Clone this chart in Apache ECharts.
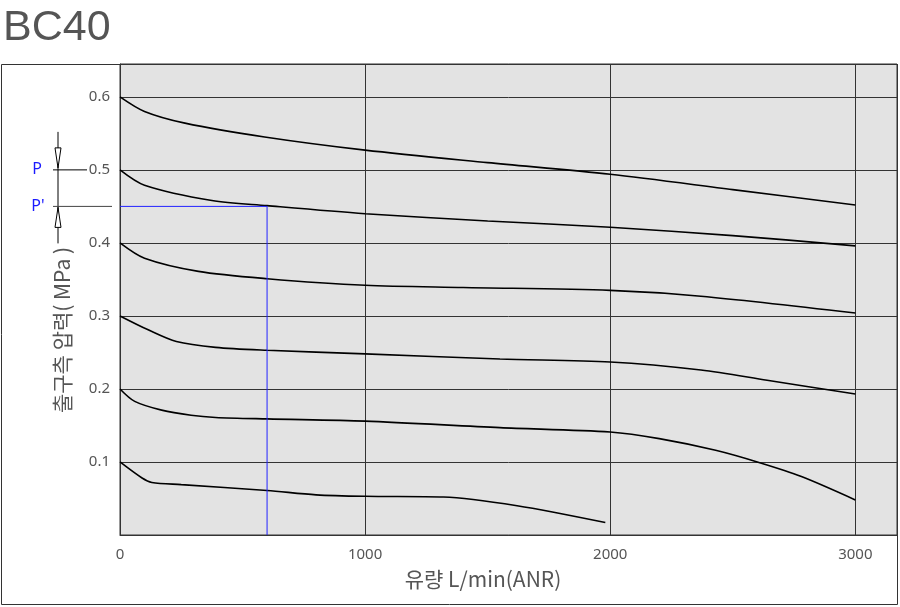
<!DOCTYPE html>
<html><head><meta charset="utf-8">
<script src="https://cdn.jsdelivr.net/npm/echarts@6/dist/echarts.min.js"></script>
<style>html,body{margin:0;padding:0;background:#fff}#c{width:900px;height:607px}</style>
</head><body><div id="c"></div>
<script>
const titleText = 'BC40';
const xName = '유량 L/min(ANR)';
const yName = '출구측 압력( MPa )';
const xTickValues = [0, 1000, 2000, 3000];
const yTickValues = [0.1, 0.2, 0.3, 0.4, 0.5, 0.6];
const curve06 = [[0,0.6],[100,0.58],[265,0.564],[590,0.545],[1000,0.527],[1500,0.51],[2000,0.494],[2500,0.473],[3000,0.452]];
const curve05 = [[0,0.5],[100,0.479],[375,0.458],[600,0.451],[1000,0.44],[1500,0.43],[2000,0.4215],[2500,0.41],[3000,0.396]];
const curve04 = [[0,0.4],[100,0.379],[320,0.361],[600,0.351],[1000,0.342],[1400,0.339],[2000,0.335],[2370,0.327],[3000,0.304]];
const curve03 = [[0,0.3],[115,0.281],[230,0.265],[390,0.257],[600,0.253],[1000,0.248],[1550,0.241],[2000,0.237],[2370,0.226],[2640,0.212],[3000,0.193]];
const curve02 = [[0,0.2],[60,0.183],[170,0.171],[290,0.164],[390,0.161],[600,0.159],[1000,0.156],[1550,0.147],[2000,0.141],[2200,0.132],[2430,0.116],[2610,0.099],[2780,0.08],[3000,0.048]];
const curve01 = [[0,0.1],[90,0.078],[130,0.072],[250,0.069],[600,0.061],[800,0.055],[1000,0.053],[1320,0.052],[1620,0.04],[1980,0.017]];
const refFlow = 600;
const refP = 0.5;
const refPprime = 0.45;
const labelP = 'P';
const labelPprime = "P'";

const curves = [curve06, curve05, curve04, curve03, curve02, curve01];
const chart = echarts.init(document.getElementById('c'));
const txt = '#555';
const font = '"Noto Sans", "Noto Sans CJK KR", sans-serif';

const series = curves.map(d => ({
  type: 'line', data: d, showSymbol: false, smooth: 0.3, silent: true,
  lineStyle: { color: '#000', width: 1.6 }
}));
series.push({
  type: 'line', data: [[0, refPprime], [refFlow, refPprime], [refFlow, 0]],
  showSymbol: false, silent: true, lineStyle: { color: '#2222ff', width: 1 }
});

chart.setOption({
  animation: false,
  title: { text: titleText, left: -2, top: 2, textStyle: { fontSize: 43, fontWeight: 'normal', color: '#555', fontFamily: '"Liberation Sans", Arial, sans-serif' } },
  grid: { left: 120, top: 64, right: 3, bottom: 72, show: true, backgroundColor: '#e3e3e3', borderColor: '#333', borderWidth: 1 },
  xAxis: {
    type: 'value', min: 0, max: 3170, interval: 1000,
    axisLine: { show: true, lineStyle: { color: '#333' } }, axisTick: { show: false },
    axisLabel: { margin: 12, color: txt, fontSize: 15, fontFamily: font, showMaxLabel: false,
      formatter: v => xTickValues.includes(v) ? String(v) : '' },
    splitLine: { show: true, lineStyle: { color: '#333', width: 1 } }
  },
  yAxis: {
    type: 'value', min: 0, max: 0.645, interval: 0.1,
    axisLine: { show: true, lineStyle: { color: '#333' } }, axisTick: { show: false },
    axisLabel: { margin: 10, color: txt, fontSize: 15, fontFamily: font,
      formatter: v => { const r = Math.round(v * 10) / 10; return (Math.abs(v - r) < 1e-9 && yTickValues.includes(r)) ? r.toFixed(1) : ''; } },
    splitLine: { show: true, lineStyle: { color: '#333', width: 1 } }
  },
  series: series
});

const px = (x, y) => chart.convertToPixel({ gridIndex: 0 }, [x, y]);
const pP = px(0, refP), pPp = px(0, refPprime);
const gx = pP[0];
const ax = 58;
const yP = pP[1], yPp = pPp[1];
chart.setOption({
  graphic: [
    { type: 'rect', shape: { x: 1.5, y: 64.5, width: 896, height: 540 }, style: { fill: 'none', stroke: '#333', lineWidth: 1 }, silent: true },
    { type: 'text', x: 483, y: 579, style: { text: xName, fill: txt, font: '21px "Noto Sans CJK KR", sans-serif', align: 'center', verticalAlign: 'middle' } },
    { type: 'text', x: 62, y: 330, rotation: Math.PI / 2, style: { text: yName, fill: txt, font: '21px "Noto Sans CJK KR", sans-serif', align: 'center', verticalAlign: 'middle' } },
    { type: 'line', shape: { x1: ax, y1: yP - 38, x2: ax, y2: yPp + 37 }, style: { stroke: '#000', lineWidth: 1 } },
    { type: 'line', shape: { x1: ax - 5, y1: yP, x2: 87, y2: yP }, style: { stroke: '#000', lineWidth: 1 } },
    { type: 'line', shape: { x1: ax - 5, y1: yPp, x2: gx - 8, y2: yPp }, style: { stroke: '#444', lineWidth: 1 } },
    { type: 'polygon', shape: { points: [[ax - 3, yP - 22], [ax + 3, yP - 22], [ax, yP - 2]] }, style: { fill: '#fff', stroke: '#000', lineWidth: 1 } },
    { type: 'polygon', shape: { points: [[ax - 3, yPp + 21], [ax + 3, yPp + 21], [ax, yPp + 1]] }, style: { fill: '#fff', stroke: '#000', lineWidth: 1 } },
    { type: 'text', x: 37, y: yP, style: { text: labelP, fill: '#1a1aff', font: '16px "Noto Sans", sans-serif', align: 'center', verticalAlign: 'middle' } },
    { type: 'text', x: 38, y: yPp, style: { text: labelPprime, fill: '#1a1aff', font: '16px "Noto Sans", sans-serif', align: 'center', verticalAlign: 'middle' } }
  ]
});
</script></body></html>
